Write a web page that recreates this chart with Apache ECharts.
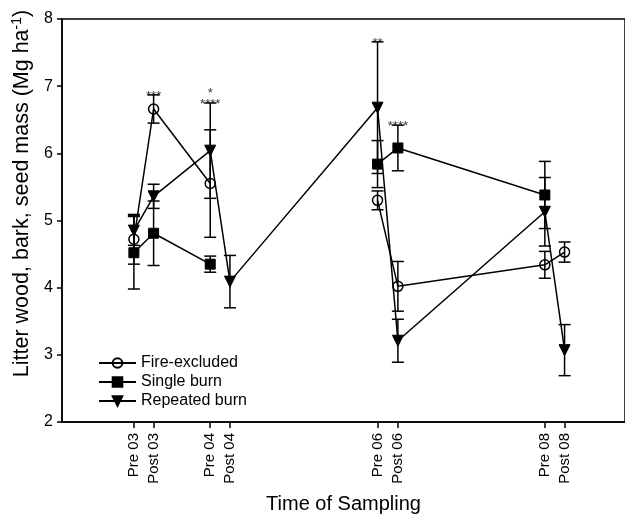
<!DOCTYPE html>
<html>
<head>
<meta charset="utf-8">
<script src="https://cdn.jsdelivr.net/npm/echarts@6/dist/echarts.min.js"></script>
<style>
  html, body { margin: 0; padding: 0; background: #fff; }
  #chart { width: 625px; height: 519px; }
</style>
</head>
<body>
<div id="chart"></div>
<script>
// sampling times (months on the time axis) and their labels
const timeLabels = ['Pre 03', 'Post 03', 'Pre 04', 'Post 04', 'Pre 06', 'Post 06', 'Pre 08', 'Post 08'];
const sampleMonths = [11.3, 14.4, 23.3, 26.4, 49.6, 52.8, 75.9, 79.0];

// litter wood, bark, seed mass (Mg ha-1) and error bars
const fireExcluded = [4.72, 6.66, 5.55, null, 5.30, 4.02, 4.34, 4.53];
const fireExcludedErr = [0.37, 0.21, 0.80, null, 0.14, 0.37, 0.20, 0.15];
const singleBurn = [4.52, 4.81, 4.35, null, 5.84, 6.08, 5.38, null];
const singleBurnErr = [0.54, 0.48, 0.12, null, 0.35, 0.34, 0.50, null];
const repeatedBurn = [4.85, 5.36, 6.04, 4.09, 6.68, 3.21, 5.13, 3.07];
const repeatedBurnErr = [0.22, 0.18, 0.71, 0.39, 0.98, 0.32, 0.51, 0.38];

// significance marks above each sampling
const sigMarks = ['', '***', '*\n****', '', '**', '****', '', ''];

const yTicks = [2, 3, 4, 5, 6, 7, 8];

const FONT = "'Liberation Sans', Arial, sans-serif";

function lineData(vals) {
  return sampleMonths.map((x, i) => [x, vals[i] == null ? '-' : vals[i]]);
}
function errData(vals, errs) {
  const out = [];
  sampleMonths.forEach((x, i) => {
    if (vals[i] != null) out.push([x, vals[i], errs[i]]);
  });
  return out;
}

function renderErr(params, api) {
  const x = api.value(0), y = api.value(1), e = api.value(2);
  const top = api.coord([x, y + e]);
  const bot = api.coord([x, y - e]);
  const hw = 6;
  const st = { stroke: '#000', lineWidth: 1.5 };
  return {
    type: 'group',
    children: [
      { type: 'line', shape: { x1: top[0], y1: top[1], x2: bot[0], y2: bot[1] }, style: st },
      { type: 'line', shape: { x1: top[0] - hw, y1: top[1], x2: top[0] + hw, y2: top[1] }, style: st },
      { type: 'line', shape: { x1: bot[0] - hw, y1: bot[1], x2: bot[0] + hw, y2: bot[1] }, style: st }
    ]
  };
}

// star labels sit above the highest error bar at that time
const sigData = [];
sampleMonths.forEach((x, i) => {
  if (!sigMarks[i]) return;
  let hi = -Infinity;
  [[fireExcluded, fireExcludedErr], [singleBurn, singleBurnErr], [repeatedBurn, repeatedBurnErr]].forEach(([v, e]) => {
    if (v[i] != null) hi = Math.max(hi, v[i] + e[i]);
  });
  sigData.push({ value: [x, hi], mark: sigMarks[i] });
});

const chart = echarts.init(document.getElementById('chart'), null, { renderer: 'canvas' });

const lineCommon = {
  type: 'line',
  lineStyle: { color: '#000', width: 1.5 },
  connectNulls: false,
  animation: false,
  z: 3
};

chart.setOption({
  animation: false,
  textStyle: { fontFamily: FONT, color: '#000' },
  grid: {
    left: 62, top: 19, right: -27, bottom: 94,
    show: true, borderColor: '#000', borderWidth: 1.5, backgroundColor: 'transparent'
  },
  legend: {
    left: 93, top: 350,
    orient: 'vertical',
    itemWidth: 37, itemHeight: 12, itemGap: 3,
    textStyle: { fontFamily: FONT, fontSize: 16, color: '#000' },
    data: ['Fire-excluded', 'Single burn', 'Repeated burn']
  },
  xAxis: {
    type: 'value',
    min: 0, max: 88.5,
    name: 'Time of Sampling',
    nameLocation: 'middle',
    nameGap: 72,
    nameTextStyle: { fontFamily: FONT, fontSize: 20, color: '#000' },
    splitLine: { show: false },
    axisLine: { lineStyle: { color: '#000', width: 1.5 } },
    axisTick: { customValues: sampleMonths, length: 6, lineStyle: { color: '#000', width: 1.5 } },
    axisLabel: {
      customValues: sampleMonths,
      rotate: 90,
      margin: 11,
      fontFamily: FONT, fontSize: 15, color: '#000',
      formatter: v => {
        let best = 0;
        sampleMonths.forEach((m, i) => { if (Math.abs(m - v) < Math.abs(sampleMonths[best] - v)) best = i; });
        return timeLabels[best];
      }
    }
  },
  yAxis: {
    type: 'value',
    min: yTicks[0], max: yTicks[yTicks.length - 1], interval: 1,
    name: 'Litter wood, bark, seed mass (Mg ha{sup|-1})',
    nameLocation: 'middle',
    nameRotate: 90,
    nameGap: 25,
    nameTextStyle: {
      fontFamily: FONT, fontSize: 21.5, color: '#000',
      padding: [0, 0, 0, 54],
      rich: { sup: { fontFamily: FONT, fontSize: 14, color: '#000', padding: [0, 0, 10, 0] } }
    },
    splitLine: { show: false },
    axisLine: { lineStyle: { color: '#000', width: 1.5 } },
    axisTick: { length: 5, lineStyle: { color: '#000', width: 1.5 } },
    axisLabel: { margin: 9, fontFamily: FONT, fontSize: 16, color: '#000' }
  },
  series: [
    Object.assign({}, lineCommon, {
      name: 'Fire-excluded',
      data: lineData(fireExcluded),
      symbol: 'circle', symbolSize: 10,
      itemStyle: { color: 'rgba(255,255,255,0)', borderColor: '#000', borderWidth: 1.5 }
    }),
    Object.assign({}, lineCommon, {
      name: 'Single burn',
      data: lineData(singleBurn),
      symbol: 'rect', symbolSize: 10,
      itemStyle: { color: '#000', borderColor: '#000', borderWidth: 1 }
    }),
    Object.assign({}, lineCommon, {
      name: 'Repeated burn',
      data: lineData(repeatedBurn),
      symbol: 'triangle', symbolSize: 11, symbolRotate: 180,
      itemStyle: { color: '#000', borderColor: '#000', borderWidth: 1 }
    }),
    { type: 'custom', name: 'fe-err', renderItem: renderErr, data: errData(fireExcluded, fireExcludedErr), encode: { x: 0, y: 1 }, z: 2 },
    { type: 'custom', name: 'sb-err', renderItem: renderErr, data: errData(singleBurn, singleBurnErr), encode: { x: 0, y: 1 }, z: 2 },
    { type: 'custom', name: 'rb-err', renderItem: renderErr, data: errData(repeatedBurn, repeatedBurnErr), encode: { x: 0, y: 1 }, z: 2 },
    {
      type: 'scatter',
      name: 'sig',
      data: sigData,
      symbolSize: 0,
      silent: true,
      label: {
        show: true,
        position: 'top',
        distance: 0,
        offset: [0, 7],
        formatter: p => p.data.mark,
        fontFamily: FONT, fontSize: 13, lineHeight: 11, color: '#000'
      },
      z: 4
    }
  ]
});
</script>
</body>
</html>
